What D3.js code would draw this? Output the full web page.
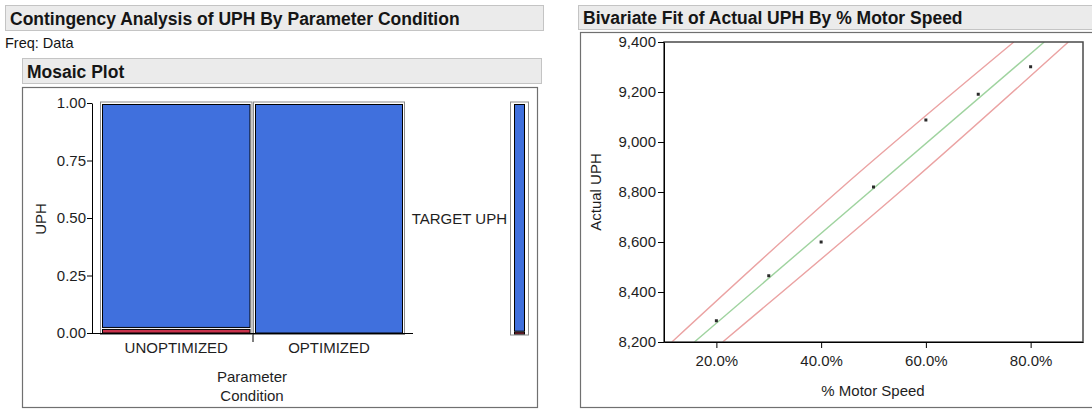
<!DOCTYPE html>
<html>
<head>
<meta charset="utf-8">
<script src="https://cdn.jsdelivr.net/npm/d3@7/dist/d3.min.js"></script>
<style>
  html, body { margin: 0; padding: 0; background: #ffffff; }
  svg { display: block; font-family: "Liberation Sans", Arial, sans-serif; }
  .tick text { font-size: 15px; fill: #1e1e1e; }
</style>
</head>
<body>
<svg id="chart" width="1092" height="409"></svg>
<script>
// ---------------- DATA ----------------
const categories = ["UNOPTIMIZED", "OPTIMIZED"];
const categoryShares = [0.5, 0.5];
const uphLevels = ["BELOW TARGET", "TARGET UPH"];
const levelColors = ["#C8324B", "#4070DD"];
const cellFractions = [
  [0.02, 0.98],   // UNOPTIMIZED
  [0.00, 1.00]    // OPTIMIZED
];
const marginalFractions = [0.008, 0.992];
const mosaicTicks = [0, 0.25, 0.5, 0.75, 1];

const motorSpeed = [20, 30, 40, 50, 60, 70, 80];
const actualUPH = [8285, 8465, 8600, 8820, 9088, 9191, 9301];
const fitLine = [[15.8, 8200], [82.6, 9400]];
const upperBand = [[11.5, 8200], [44.1, 8820], [76.8, 9400]];
const lowerBand = [[21.2, 8200], [56.1, 8820], [87.2, 9400]];
const uphTicks = [8200, 8400, 8600, 8800, 9000, 9200, 9400];
const speedTicks = [20, 40, 60, 80];

// ---------------- DRAW ----------------
const svg = d3.select("#chart");
const FONT = "Liberation Sans, Arial, sans-serif";

function header(x, y, w, h, text) {
  svg.append("rect").attr("x", x + 0.5).attr("y", y + 0.5).attr("width", w).attr("height", h)
    .attr("fill", "#ebebeb").attr("stroke", "#c4c4c4");
  svg.append("text").attr("x", x + 5).attr("y", y + h / 2 + 1)
    .attr("dominant-baseline", "central").attr("font-weight", "bold")
    .attr("font-size", 17.5).attr("fill", "#151515").text(text);
}

// Left panel
header(5, 5, 538, 25, "Contingency Analysis of UPH By Parameter Condition");
svg.append("text").attr("x", 5).attr("y", 43).attr("dominant-baseline", "central")
  .attr("font-size", 14.5).attr("fill", "#151515").text("Freq: Data");
header(22, 58, 519, 25, "Mosaic Plot");
svg.append("rect").attr("x", 22.5).attr("y", 87.5).attr("width", 515).attr("height", 320)
  .attr("fill", "none").attr("stroke", "#707070").attr("stroke-width", 1.2);

const mx = d3.scaleLinear().domain([0, 1]).range([100, 405]);
const my = d3.scaleLinear().domain([0, 1]).range([333, 103]);
const cellY = d3.scaleLinear().domain([0, 1]).range([333, 104.5]);

// columns
let cum = 0;
const colBounds = [];
categories.forEach((cat, i) => {
  const x0 = mx(cum) + (i > 0 ? 1 : 0.5);
  const x1 = mx(cum + categoryShares[i]) - 0.5;
  colBounds.push([x0, x1, mx(cum + categoryShares[i])]);
  svg.append("rect").attr("x", x0).attr("y", 102).attr("width", x1 - x0).attr("height", 232.5)
    .attr("fill", "#ffffff").attr("stroke", "#8c8c8c").attr("stroke-width", 1);
  let c = 0;
  cellFractions[i].forEach((f, j) => {
    if (f > 0) {
      const yb = cellY(c) - (c > 0 ? 1 : 0);
      const yt = cellY(c + f) + (c + f < 1 ? 1 : 0);
      svg.append("rect").attr("x", x0 + 2).attr("y", yt).attr("width", x1 - x0 - 4).attr("height", Math.max(yb - yt, 1))
        .attr("fill", levelColors[j]).attr("stroke", "#000").attr("stroke-width", 1);
    }
    c += f;
  });
  svg.append("text").attr("x", (x0 + x1) / 2).attr("y", 347.5).attr("text-anchor", "middle")
    .attr("dominant-baseline", "central").attr("font-size", 15).attr("fill", "#1e1e1e").text(cat);
  cum += categoryShares[i];
});

// marginal bar
svg.append("rect").attr("x", 510.5).attr("y", 102).attr("width", 18).attr("height", 233)
  .attr("fill", "#ffffff").attr("stroke", "#8c8c8c");
let mc = 0;
marginalFractions.forEach((f, j) => {
  const yb = cellY(mc) + 1 - (mc > 0 ? 1 : 0);
  const yt = cellY(mc + f) + (mc + f < 1 ? 1 : 0);
  svg.append("rect").attr("x", 514.5).attr("y", yt).attr("width", 10).attr("height", Math.max(yb - yt, 1))
    .attr("fill", levelColors[j]).attr("stroke", "#000").attr("stroke-width", 1);
  if (f > 0.1) {
    svg.append("text").attr("x", 507).attr("y", (cellY(mc) + cellY(mc + f)) / 2 + 1)
      .attr("text-anchor", "end").attr("dominant-baseline", "central")
      .attr("font-size", 15).attr("fill", "#1e1e1e").text(uphLevels[j]);
  }
  mc += f;
});

// mosaic axes
const yAxisG = svg.append("g").attr("transform", "translate(92,0)")
  .call(d3.axisLeft(my).tickValues(mosaicTicks).tickFormat(d3.format(".2f")).tickSize(5).tickSizeOuter(0).tickPadding(1));
yAxisG.selectAll("path, line").attr("stroke", "#000");
yAxisG.selectAll("text").attr("font-family", FONT);
svg.append("line").attr("x1", 87).attr("x2", 413).attr("y1", 333.5).attr("y2", 333.5).attr("stroke", "#000");
svg.append("line").attr("x1", colBounds[0][2] + 0.5).attr("x2", colBounds[0][2] + 0.5).attr("y1", 334).attr("y2", 342).attr("stroke", "#000");
svg.append("text").attr("transform", "translate(40,219) rotate(-90)").attr("text-anchor", "middle")
  .attr("dominant-baseline", "central").attr("font-size", 15).attr("fill", "#1e1e1e").text("UPH");
svg.append("text").attr("x", 252).attr("y", 376).attr("text-anchor", "middle").attr("dominant-baseline", "central")
  .attr("font-size", 15).attr("fill", "#1e1e1e").text("Parameter");
svg.append("text").attr("x", 252).attr("y", 395).attr("text-anchor", "middle").attr("dominant-baseline", "central")
  .attr("font-size", 15).attr("fill", "#1e1e1e").text("Condition");

// Right panel
header(578, 5, 520, 24, "Bivariate Fit of Actual UPH By % Motor Speed");
svg.append("rect").attr("x", 580.5).attr("y", 32.5).attr("width", 520).attr("height", 375)
  .attr("fill", "none").attr("stroke", "#707070").attr("stroke-width", 1.2);

const sx = d3.scaleLinear().domain([10, 90]).range([664, 1083]);
const sy = d3.scaleLinear().domain([8200, 9400]).range([342, 42]);

svg.append("defs").append("clipPath").attr("id", "plotclip").append("rect")
  .attr("x", sx(10)).attr("y", sy(9400)).attr("width", sx(90) - sx(10)).attr("height", sy(8200) - sy(9400));

const plot = svg.append("g").attr("clip-path", "url(#plotclip)");
const line = d3.line().x(d => sx(d[0])).y(d => sy(d[1]));
const curve = d3.line().x(d => sx(d[0])).y(d => sy(d[1])).curve(d3.curveNatural);
plot.append("path").datum(upperBand).attr("d", curve).attr("fill", "none").attr("stroke", "#eba3a3").attr("stroke-width", 1.4);
plot.append("path").datum(lowerBand).attr("d", curve).attr("fill", "none").attr("stroke", "#eba3a3").attr("stroke-width", 1.4);
plot.append("path").datum(fitLine).attr("d", line).attr("fill", "none").attr("stroke", "#9fd39f").attr("stroke-width", 1.4);
plot.selectAll("rect.pt").data(motorSpeed).enter().append("rect").attr("class", "pt")
  .attr("x", (d) => sx(d) - 1.5).attr("y", (d, i) => sy(actualUPH[i]) - 1.5)
  .attr("width", 3).attr("height", 3).attr("fill", "#2a2a2a");

svg.append("rect").attr("x", sx(10)).attr("y", sy(9400)).attr("width", sx(90) - sx(10)).attr("height", sy(8200) - sy(9400))
  .attr("fill", "none").attr("stroke", "#4a4a4a").attr("stroke-width", 1.5);

const syAxis = svg.append("g").attr("transform", `translate(${sx(10)},0)`)
  .call(d3.axisLeft(sy).tickValues(uphTicks).tickFormat(d3.format(",")).tickSize(6).tickSizeOuter(0).tickPadding(2));
const sxAxis = svg.append("g").attr("transform", `translate(0,${sy(8200)})`)
  .call(d3.axisBottom(sx).tickValues(speedTicks).tickFormat(d => d.toFixed(1) + "%").tickSize(6).tickSizeOuter(0).tickPadding(7));
[syAxis, sxAxis].forEach(g => {
  g.selectAll("path, line").attr("stroke", "#000");
  g.selectAll("text").attr("font-family", FONT);
});
svg.append("text").attr("transform", "translate(595,192) rotate(-90)").attr("text-anchor", "middle")
  .attr("dominant-baseline", "central").attr("font-size", 15).attr("fill", "#1e1e1e").text("Actual UPH");
svg.append("text").attr("x", 873).attr("y", 390).attr("text-anchor", "middle").attr("dominant-baseline", "central")
  .attr("font-size", 15).attr("fill", "#1e1e1e").text("% Motor Speed");
</script>
</body>
</html>
